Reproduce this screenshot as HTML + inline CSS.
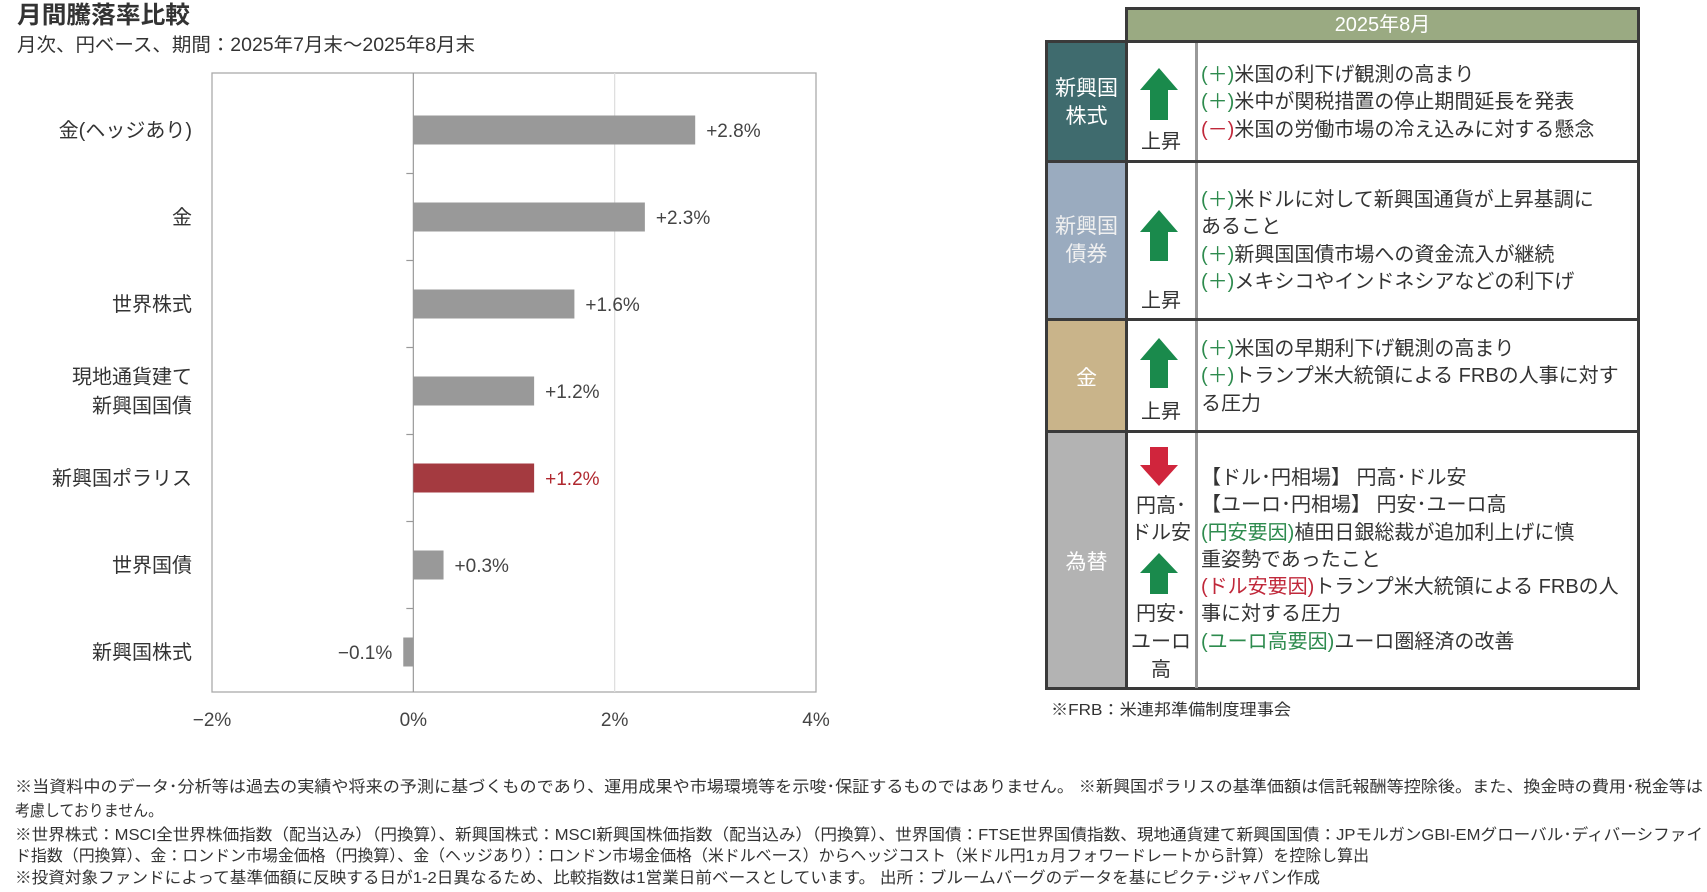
<!DOCTYPE html>
<html><head><meta charset="utf-8">
<style>
body{margin:0;width:1707px;height:892px;background:#fff;position:relative;overflow:hidden;font-family:"Liberation Sans","Noto Sans CJK JP",sans-serif;color:#333}
.a{position:absolute;white-space:nowrap;transform-origin:0 50%}
.t{position:absolute;left:1201px;font-size:20px;line-height:27.3px;color:#333;white-space:nowrap}
.g{color:#2e8b4e}.r{color:#c0283a}
.cell{position:absolute;box-sizing:border-box}
.lab{position:absolute;color:#fff;font-size:21px;text-align:center;line-height:28px;width:79px;left:1047px}
.ar{position:absolute;font-size:20px;text-align:center;width:70px;left:1126px;line-height:27px;color:#333}
</style></head><body>
<div class="a" data-w="173" style="left:17px;top:2px;font-size:24px;line-height:28px;font-weight:bold;color:#333">月間騰落率比較</div>
<div class="a" data-w="458" style="left:17px;top:34px;font-size:19px;line-height:24px">月次、円ベース、期間：2025年7月末～2025年8月末</div>

<svg id="chart" width="1000" height="760" style="position:absolute;left:0;top:0"></svg>

<div class="cell" style="left:1125px;top:7px;width:515px;height:36px;background:#9aaa82;border:3px solid #3a3a3a;color:#fff;font-size:20px;text-align:center;line-height:30px">2025年8月</div>
<div class="cell" style="left:1045px;top:40px;width:595px;height:650px;border:3px solid #3a3a3a;background:#fff"></div>
<div class="cell" style="left:1048px;top:43px;width:77px;height:117px;background:#3f6b6e"></div>
<div class="cell" style="left:1048px;top:163px;width:77px;height:155px;background:#9aabbf"></div>
<div class="cell" style="left:1048px;top:321px;width:77px;height:109px;background:#c9b48a"></div>
<div class="cell" style="left:1048px;top:433px;width:77px;height:254px;background:#b3b3b3"></div>
<div class="cell" style="left:1125px;top:40px;width:3px;height:650px;background:#3a3a3a"></div>
<div class="cell" style="left:1195px;top:43px;width:3px;height:645px;background:#999"></div>
<div class="cell" style="left:1045px;top:160px;width:595px;height:3px;background:#3a3a3a"></div>
<div class="cell" style="left:1045px;top:318px;width:595px;height:3px;background:#3a3a3a"></div>
<div class="cell" style="left:1045px;top:430px;width:595px;height:3px;background:#3a3a3a"></div>

<div class="lab" style="top:75px">新興国<br>株式</div>
<div class="lab" style="top:213px;color:#f0f0f0">新興国<br>債券</div>
<div class="lab" style="top:365px">金</div>
<div class="lab" style="top:549px">為替</div>

<svg width="1707" height="892" style="position:absolute;left:0;top:0">
<g fill="#1a8a4c">
<polygon points="1159,68 1178,90 1168,90 1168,120 1150,120 1150,90 1140,90"/>
<polygon points="1159,210 1178,232 1168,232 1168,261 1150,261 1150,232 1140,232"/>
<polygon points="1159,338 1178,360 1168,360 1168,388 1150,388 1150,360 1140,360"/>
<polygon points="1159,553 1178,573 1168,573 1168,594 1150,594 1150,573 1140,573"/>
</g>
<polygon fill="#d0253c" points="1150,447 1168,447 1168,465 1178,465 1159,486 1140,465 1150,465"/>
</svg>
<div class="ar" style="top:129px">上昇</div>
<div class="ar" style="top:288px">上昇</div>
<div class="ar" style="top:399px">上昇</div>
<div class="ar" style="top:493px;line-height:27px">円高･<br>ドル安</div>
<div class="ar" style="top:600px;line-height:28px">円安･<br>ユーロ<br>高</div>

<div class="t" style="top:62px"><span class="g">(＋)</span>米国の利下げ観測の高まり<br><span class="g">(＋)</span>米中が関税措置の停止期間延長を発表<br><span class="r">(－)</span>米国の労働市場の冷え込みに対する懸念</div>
<div class="t" style="top:187px"><span class="g">(＋)</span>米ドルに対して新興国通貨が上昇基調に<br>あること<br><span class="g">(＋)</span>新興国国債市場への資金流入が継続<br><span class="g">(＋)</span>メキシコやインドネシアなどの利下げ</div>
<div class="t" style="top:336px"><span class="g">(＋)</span>米国の早期利下げ観測の高まり<br><span class="g">(＋)</span>トランプ米大統領による FRBの人事に対す<br>る圧力</div>
<div class="t" style="top:465px">【ドル･円相場】 円高･ドル安<br>【ユーロ･円相場】 円安･ユーロ高<br><span class="g">(円安要因)</span>植田日銀総裁が追加利上げに慎<br>重姿勢であったこと<br><span class="r">(ドル安要因)</span>トランプ米大統領による FRBの人<br>事に対する圧力<br><span class="g">(ユーロ高要因)</span>ユーロ圏経済の改善</div>
<div class="a" data-w="240" style="left:1051px;top:700px;font-size:16px;line-height:22px">※FRB：米連邦準備制度理事会</div>

<div class="a" data-w="1688" style="left:15px;top:777px;font-size:16px;line-height:22px">※当資料中のデータ･分析等は過去の実績や将来の予測に基づくものであり、運用成果や市場環境等を示唆･保証するものではありません。 ※新興国ポラリスの基準価額は信託報酬等控除後。また、換金時の費用･税金等は</div>
<div class="a" data-w="148" style="left:15px;top:801px;font-size:16px;line-height:22px">考慮しておりません。</div>
<div class="a" data-w="1688" style="left:15px;top:825px;font-size:16px;line-height:22px">※世界株式：MSCI全世界株価指数（配当込み）（円換算）、新興国株式：MSCI新興国株価指数（配当込み）（円換算）、世界国債：FTSE世界国債指数、現地通貨建て新興国国債：JPモルガンGBI-EMグローバル･ディバーシファイ</div>
<div class="a" data-w="1354" style="left:15px;top:846px;font-size:16px;line-height:22px">ド指数（円換算）、金：ロンドン市場金価格（円換算）、金（ヘッジあり）：ロンドン市場金価格（米ドルベース）からヘッジコスト（米ドル円1ヵ月フォワードレートから計算）を控除し算出</div>
<div class="a" data-w="1305" style="left:15px;top:868px;font-size:16px;line-height:22px">※投資対象ファンドによって基準価額に反映する日が1-2日異なるため、比較指数は1営業日前ベースとしています。 出所：ブルームバーグのデータを基にピクテ･ジャパン作成</div>

<script>
const categories=["金(ヘッジあり)","金","世界株式","現地通貨建て\n新興国国債","新興国ポラリス","世界国債","新興国株式"];
const values=[2.8,2.3,1.6,1.2,1.2,0.3,-0.1];
const valueLabels=["+2.8%","+2.3%","+1.6%","+1.2%","+1.2%","+0.3%","−0.1%"];
const highlight=[false,false,false,false,true,false,false];
const xTicks=[-2,0,2,4];
const xTickLabels=["−2%","0%","2%","4%"];
const NS="http://www.w3.org/2000/svg";
const svg=document.getElementById('chart');
const L=212,R=816,T=73,B=692,xmin=-2,xmax=4;
const x=v=>L+(v-xmin)/(xmax-xmin)*(R-L);
const band=87;
const firstCenter=130;
const yc=i=>firstCenter+band*i;
function mk(tag,attrs,parent){const e=document.createElementNS(NS,tag);for(const k in attrs)e.setAttribute(k,attrs[k]);(parent||svg).appendChild(e);return e;}
let frame=mk('rect',{x:L,y:T,width:R-L,height:B-T,fill:'none',stroke:'#aaa','stroke-width':1.3});


xTicks.forEach((t,i)=>{
  if(t>xmin&&t<xmax){let g=mk('line',{x1:x(t),x2:x(t),y1:T,y2:B,stroke:t===0?'#999':'#ddd','stroke-width':1.2});
  
  }
  let tx=mk('text',{x:x(t),y:B+34,'text-anchor':'middle','font-size':19,fill:'#444'});
  tx.textContent=xTickLabels[i];
  
  
});
for(let i=1;i<categories.length;i++){
  const ty=yc(i)-band/2;
  let tk=mk('line',{x1:x(0)-7,x2:x(0),y1:ty,y2:ty,stroke:'#999','stroke-width':1.2});
  
  
}
const bh=29;
categories.forEach((c,i)=>{
  const v=values[i];
  const x0=Math.min(x(0),x(v)),w=Math.abs(x(v)-x(0));
  let r=mk('rect',{x:x0,y:yc(i)-bh/2,width:w,height:bh,fill:highlight[i]?'#a43a40':'#999'});
  
  
  let vl=mk('text',{x:v>=0?x(v)+11:x(v)-11,y:yc(i)+7,'text-anchor':v>=0?'start':'end','font-size':19,fill:highlight[i]?'#b0282f':'#444'});
  vl.textContent=valueLabels[i];
  
  
  const lines=c.split('\n');
  lines.forEach((ln,j)=>{
    let cl=mk('text',{x:192,y:yc(i)+7+(j-(lines.length-1)/2)*29,'text-anchor':'end','font-size':20,fill:'#333'});
    cl.textContent=ln;
    
    
  });
});
document.querySelectorAll('[data-w]').forEach(el=>{
  const w=el.getBoundingClientRect().width;const tw=+el.getAttribute('data-w');
  if(w>0)el.style.transform='scaleX('+(tw/w)+')';
});
</script>
</body></html>
